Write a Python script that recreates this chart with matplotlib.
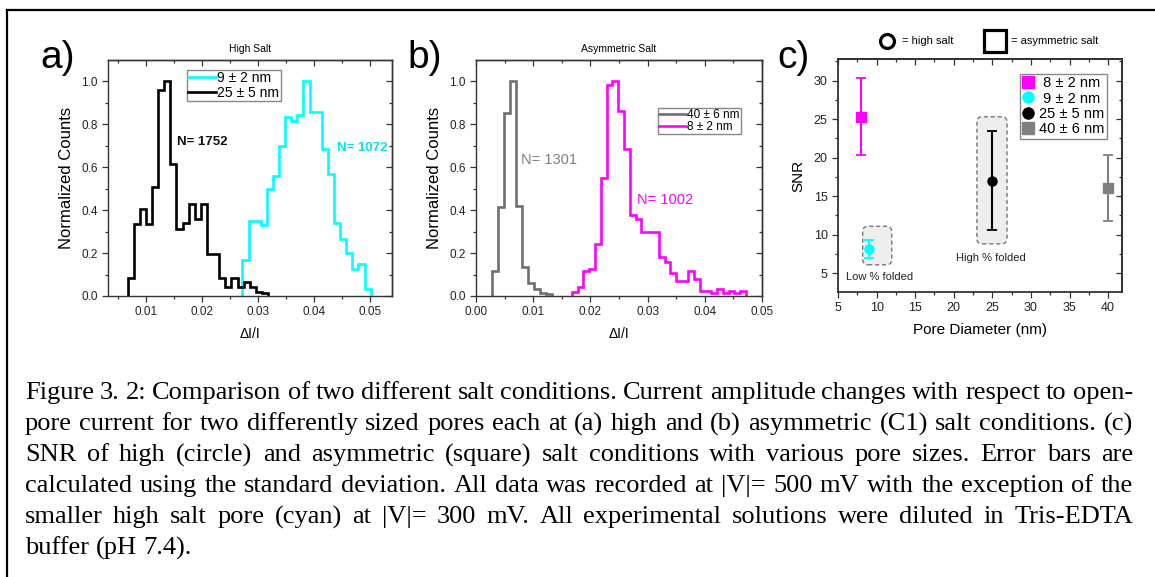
import numpy as np
import matplotlib.pyplot as plt
from matplotlib.lines import Line2D
from matplotlib.patches import FancyBboxPatch
from matplotlib.ticker import MultipleLocator

plt.rcParams['font.family'] = ['Liberation Sans', 'DejaVu Sans']

# ---- data: panel a (high salt) ----
a_black_start, a_black_width = 0.0067, 0.00109
a_black = [0.085, 0.337, 0.407, 0.337, 0.508, 0.958, 1.0, 0.616, 0.314, 0.34,
           0.427, 0.357, 0.427, 0.194, 0.194, 0.085, 0.04, 0.085, 0.04, 0.065,
           0.04, 0.02, 0.015]
a_cyan_start, a_cyan_width = 0.0272, 0.00109
a_cyan = [0.169, 0.349, 0.349, 0.329, 0.497, 0.557, 0.697, 0.834, 0.815, 0.84,
          1.0, 0.854, 0.854, 0.686, 0.567, 0.34, 0.264, 0.202, 0.127, 0.15, 0.031]

# ---- data: panel b (asymmetric salt) ----
b_gray_start, b_gray_width = 0.00274, 0.00105
b_gray = [0.114, 0.413, 0.852, 1.0, 0.42, 0.137, 0.062, 0.031, 0.016, 0.008]
b_mag_start, b_mag_width = 0.01673, 0.001016
b_mag = [0.02, 0.04, 0.114, 0.125, 0.241, 0.55, 0.981, 1.0, 0.861, 0.685,
         0.378, 0.358, 0.296, 0.296, 0.296, 0.182, 0.16, 0.109, 0.07, 0.07,
         0.114, 0.078, 0.023, 0.023, 0.012, 0.031, 0.012, 0.023, 0.012, 0.023]

# ---- data: panel c (SNR) ----
c_labels = ['8 ± 2 nm', '9 ± 2 nm', '25 ± 5 nm', '40 ± 6 nm']
c_x = [8, 9, 25, 40]
c_snr = [25.3, 8.1, 17.0, 16.1]
c_lo = [20.4, 7.0, 10.65, 11.75]
c_hi = [30.3, 9.3, 23.4, 20.4]
c_markers = ['s', 'o', 'o', 's']
c_colors = ['#ff00ff', '#00ffff', 'black', '#808080']

caption = [
    "Figure 3. 2: Comparison of two different salt conditions. Current amplitude changes with respect to open-",
    "pore current for two differently sized pores each at (a) high and (b) asymmetric (C1) salt conditions. (c)",
    "SNR of high (circle) and asymmetric (square) salt conditions with various pore sizes. Error bars are",
    "calculated using the standard deviation. All data was recorded at |V|= 500 mV with the exception of the",
    "smaller high salt pore (cyan) at |V|= 300 mV. All experimental solutions were diluted in Tris-EDTA",
    "buffer (pH 7.4).",
]

W, H = 1155, 577
fig = plt.figure(figsize=(W / 100, H / 100), dpi=100)


def px_axes(l, t, r, b):
    return fig.add_axes([l / W, 1 - b / H, (r - l) / W, (b - t) / H])


def origin_style(ax, xmaj, xmin, ymaj, ymin, lw=1.0):
    # Origin-like frame: ticks out on bottom/left, mirrored inward on top/right
    for s in ax.spines.values():
        s.set_linewidth(lw)
        s.set_color('#333333')
    ax.xaxis.set_major_locator(MultipleLocator(xmaj))
    ax.xaxis.set_minor_locator(MultipleLocator(xmin))
    ax.yaxis.set_major_locator(MultipleLocator(ymaj))
    ax.yaxis.set_minor_locator(MultipleLocator(ymin))
    ax.tick_params(which='both', direction='out', colors='#333333', labelcolor='#222222', width=0.9)
    ax.tick_params(which='major', length=4)
    ax.tick_params(which='minor', length=2.5)
    top = ax.secondary_xaxis('top')
    top.xaxis.set_major_locator(MultipleLocator(xmaj))
    top.xaxis.set_minor_locator(MultipleLocator(xmin))
    right = ax.secondary_yaxis('right')
    right.yaxis.set_major_locator(MultipleLocator(ymaj))
    right.yaxis.set_minor_locator(MultipleLocator(ymin))
    for sec in (top, right):
        sec.tick_params(which='both', direction='in', labeltop=False, labelright=False,
                        colors='#333333', width=0.9)
        sec.tick_params(which='major', length=4)
        sec.tick_params(which='minor', length=2.5)
        for s in sec.spines.values():
            s.set_linewidth(lw)
            s.set_color('#333333')


def edges(start, width, n):
    return start + width * np.arange(n + 1)


# ---- panel a ----
ax1 = px_axes(108, 60, 392, 296)
ax1.stairs(a_cyan, edges(a_cyan_start, a_cyan_width, len(a_cyan)), color='#00ffff', lw=1.9, label='9 ± 2 nm')
ax1.stairs(a_black, edges(a_black_start, a_black_width, len(a_black)), color='black', lw=1.9, label='25 ± 5 nm')
ax1.set_xlim(0.0032, 0.0539)
ax1.set_ylim(0, 1.098)
origin_style(ax1, 0.01, 0.005, 0.2, 0.1)
ax1.set_xticks([0.01, 0.02, 0.03, 0.04, 0.05])
ax1.set_xticklabels(['0.01', '0.02', '0.03', '0.04', '0.05'])
ax1.yaxis.set_major_formatter(plt.FormatStrFormatter('%.1f'))
ax1.tick_params(labelsize=8.5)
ax1.set_xlabel('ΔI/I', fontsize=10, labelpad=6)
ax1.set_ylabel('Normalized Counts', fontsize=12, labelpad=5)
ax1.set_title('High Salt', fontsize=7.5, pad=6)
ax1.text(0.01554, 0.716, 'N= 1752', fontsize=9.5, fontweight='bold', color='#111111', va='center')
ax1.text(0.0441, 0.688, 'N= 1072', fontsize=9.5, fontweight='bold', color='#00e5ee', va='center')
ax1.legend(loc='upper left', bbox_to_anchor=(0.277, 0.958), fontsize=10, frameon=True, fancybox=False,
           edgecolor='#888888', framealpha=1, handlelength=2.0, handletextpad=0.1,
           borderpad=0.1, labelspacing=0.05, borderaxespad=0)

# ---- panel b ----
ax2 = px_axes(476, 60, 762, 296)
ax2.stairs(b_gray, edges(b_gray_start, b_gray_width, len(b_gray)), color='#707070', lw=1.9, label='40 ± 6 nm')
ax2.stairs(b_mag, edges(b_mag_start, b_mag_width, len(b_mag)), color='#ff00ff', lw=1.9, label='8 ± 2 nm')
ax2.set_xlim(0, 0.05)
ax2.set_ylim(0, 1.098)
origin_style(ax2, 0.01, 0.005, 0.2, 0.1)
ax2.xaxis.set_major_formatter(plt.FormatStrFormatter('%.2f'))
ax2.yaxis.set_major_formatter(plt.FormatStrFormatter('%.1f'))
ax2.tick_params(labelsize=8.5)
ax2.set_xlabel('ΔI/I', fontsize=10, labelpad=6)
ax2.set_ylabel('Normalized Counts', fontsize=12, labelpad=5)
ax2.set_title('Asymmetric Salt', fontsize=7.5, pad=6)
ax2.text(0.00787, 0.633, 'N= 1301', fontsize=10.5, color='#808080', va='center')
ax2.text(0.02815, 0.447, 'N= 1002', fontsize=10.5, color='#ff00ff', va='center')
ax2.legend(loc='upper right', bbox_to_anchor=(0.927, 0.797), fontsize=8.5, frameon=True, fancybox=False,
           edgecolor='#888888', framealpha=1, handlelength=2.3, handletextpad=0.1,
           borderpad=0.1, labelspacing=0.0, borderaxespad=0)

# ---- panel c ----
ax3 = px_axes(838, 59, 1122, 292)
ax3.set_xlim(5, 41.8)
ax3.set_ylim(2.55, 32.8)
for (x0, y0, x1, y1) in [(8.2, 6.08, 11.96, 11.08), (23.0, 8.8, 26.9, 25.3)]:
    ax3.add_patch(FancyBboxPatch((x0, y0), x1 - x0, y1 - y0,
                                 boxstyle='round,pad=0,rounding_size=0.7',
                                 facecolor='#eeeeee', edgecolor='#777777', lw=1.0,
                                 linestyle=(0, (3, 2)), zorder=1))
for x, y, lo, hi, m, c, lab in zip(c_x, c_snr, c_lo, c_hi, c_markers, c_colors, c_labels):
    ax3.errorbar([x], [y], yerr=[[y - lo], [hi - y]], fmt=m, color=c, ms=6.5,
                 capsize=3.3, elinewidth=1.5, capthick=1.3, label=lab, zorder=3)
ax3.text(10.4, 4.5, 'Low % folded', fontsize=8, ha='center', va='center', color='#222222')
ax3.text(24.8, 7.0, 'High % folded', fontsize=8, ha='center', va='center', color='#222222')
origin_style(ax3, 5, 2.5, 5, 2.5, lw=1.3)
ax3.tick_params(labelsize=9)
ax3.set_xlabel('Pore Diameter (nm)', fontsize=11, labelpad=6)
ax3.set_ylabel('SNR', fontsize=11, labelpad=6)
handles = [Line2D([], [], marker=m, color=c, ls='none', ms=8) for m, c in zip(c_markers, c_colors)]
ax3.legend(handles, [(' ' + l) if len(l) < 9 else l for l in c_labels], loc='upper right',
           bbox_to_anchor=(0.947, 0.936), fontsize=10.5,
           frameon=True, fancybox=False, edgecolor='#888888', framealpha=1,
           handlelength=0.8, handletextpad=0.4, borderpad=0.15, labelspacing=0.1,
           borderaxespad=0)

# symbol key above panel c
fig.add_artist(Line2D([887 / W], [1 - 40.5 / H], marker='o', ms=10, mfc='white', mec='black', mew=2.3, ls='none'))
fig.text(902 / W, 1 - 41 / H, '= high salt', fontsize=8, va='center')
fig.add_artist(Line2D([995 / W], [1 - 40.5 / H], marker='s', ms=15.5, mfc='white', mec='black', mew=2.3, ls='none'))
fig.text(1011 / W, 1 - 41 / H, '= asymmetric salt', fontsize=8, va='center')

# panel letters
for lab, x in (('a)', 40), ('b)', 407), ('c)', 777)):
    fig.text(x / W, 1 - 68 / H, lab, fontsize=28, va='baseline')

# border
fig.add_artist(Line2D([7 / W, 7 / W], [0, 1 - 10 / H], color='black', lw=1.6))
fig.add_artist(Line2D([7 / W, 1], [1 - 10 / H, 1 - 10 / H], color='black', lw=1.6))

# justified caption
renderer = fig.canvas.get_renderer()
left_px, right_px = 25, 1133
cap_size = 19
cap_font = dict(family=['Liberation Serif', 'DejaVu Serif'], fontsize=cap_size, va='baseline')
space_px = 0.25 * cap_size * 100 / 72
for i, line in enumerate(caption):
    y = 1 - (399 + 31.1 * i) / H
    words = line.split(' ')
    objs = [fig.text(0, y, w, **cap_font) for w in words]
    widths = [o.get_window_extent(renderer).width for o in objs]
    if i < len(caption) - 1:
        gap = (right_px - left_px - sum(widths)) / (len(words) - 1)
    else:
        gap = space_px
    x = left_px
    for o, w in zip(objs, widths):
        o.set_x(x / W)
        x += w + gap

fig.savefig('out.png', dpi=100)
